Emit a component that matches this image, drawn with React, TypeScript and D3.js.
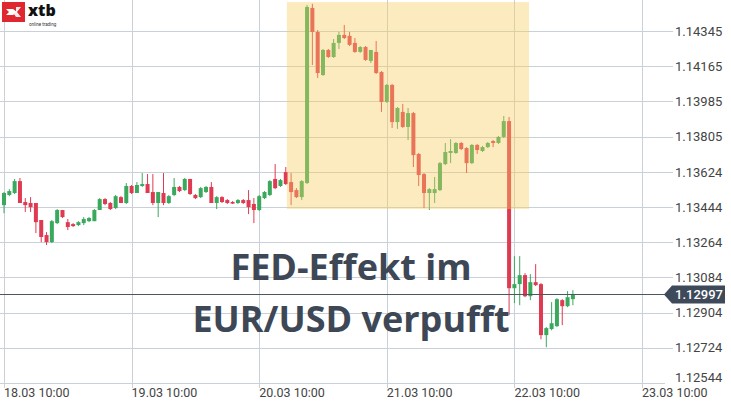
import React from "react";
import * as d3 from "d3";

const W = 731;
const H = 403;

// hourly candles starting 18.03.2019 10:00
const startTime = Date.UTC(2019, 2, 18, 10, 0);
const opens = [
  1.13454, 1.13506, 1.13516, 1.13577, 1.1347, 1.13465, 1.13465, 1.13378, 1.13301, 1.13265,
  1.13362, 1.13429, 1.13367, 1.13357, 1.13352, 1.13362, 1.13372, 1.13372, 1.13429, 1.13485,
  1.13465, 1.13439, 1.13495, 1.13465, 1.13552, 1.13516, 1.13552, 1.13562, 1.13521, 1.13465,
  1.13516, 1.13465, 1.13506, 1.13547, 1.13531, 1.13588, 1.13506, 1.13495, 1.13521, 1.13547,
  1.13465, 1.13495, 1.1348, 1.1347, 1.13465, 1.1348, 1.1348, 1.1346, 1.13429, 1.1349,
  1.13506, 1.13588, 1.13552, 1.13623, 1.13572, 1.13531, 1.13495, 1.13567, 1.14463, 1.1434,
  1.1412, 1.14248, 1.14212, 1.14284, 1.14325, 1.1432, 1.14284, 1.14238, 1.14263, 1.14192,
  1.14238, 1.14135, 1.13982, 1.14069, 1.13879, 1.13931, 1.13854, 1.13925, 1.13716, 1.13613,
  1.13516, 1.13516, 1.13531, 1.13664, 1.13721, 1.13721, 1.13772, 1.13746, 1.13669, 1.13762,
  1.13731, 1.13751, 1.13782, 1.13772, 1.13803, 1.13884, 1.13029, 1.1305, 1.13096, 1.12988,
  1.1306, 1.1305, 1.12789, 1.1282, 1.12835, 1.12968, 1.12937, 1.12973,
];
const highs = [
  1.13521, 1.13536, 1.13588, 1.13593, 1.1349, 1.13495, 1.13465, 1.13378, 1.13316, 1.13378,
  1.13434, 1.13429, 1.13383, 1.13362, 1.13372, 1.13393, 1.13393, 1.13434, 1.1349, 1.1349,
  1.1347, 1.13506, 1.135, 1.13567, 1.13557, 1.13572, 1.13618, 1.13613, 1.13613, 1.13521,
  1.13618, 1.13506, 1.13593, 1.13552, 1.13593, 1.13588, 1.13511, 1.13547, 1.13552, 1.13572,
  1.135, 1.135, 1.13485, 1.13475, 1.13485, 1.13485, 1.13531, 1.1349, 1.13506, 1.13526,
  1.13582, 1.13664, 1.13588, 1.13649, 1.13618, 1.13541, 1.13582, 1.14478, 1.14484, 1.1435,
  1.14253, 1.14253, 1.14304, 1.1434, 1.14376, 1.1434, 1.14309, 1.14268, 1.14268, 1.14248,
  1.14294, 1.1414, 1.14074, 1.14074, 1.13956, 1.13972, 1.13951, 1.13931, 1.13721, 1.13618,
  1.13541, 1.13598, 1.13675, 1.13772, 1.13792, 1.13777, 1.13777, 1.13751, 1.13767, 1.13767,
  1.13757, 1.13777, 1.13787, 1.13808, 1.1391, 1.13905, 1.13193, 1.13193, 1.13106, 1.13101,
  1.13152, 1.13055, 1.1283, 1.12958, 1.12978, 1.12973, 1.13014, 1.13019,
];
const lows = [
  1.13413, 1.135, 1.13511, 1.13465, 1.13419, 1.13419, 1.13311, 1.13265, 1.1325, 1.1326,
  1.13357, 1.13388, 1.13326, 1.13342, 1.13347, 1.13352, 1.13367, 1.13372, 1.13429, 1.13454,
  1.13429, 1.13434, 1.13465, 1.1346, 1.13511, 1.13516, 1.13547, 1.13516, 1.13454, 1.13393,
  1.13454, 1.1346, 1.135, 1.13521, 1.13526, 1.13506, 1.13485, 1.1349, 1.13516, 1.13465,
  1.13434, 1.13465, 1.1346, 1.1346, 1.1346, 1.1346, 1.13408, 1.13362, 1.13424, 1.13485,
  1.135, 1.13536, 1.13547, 1.13557, 1.13454, 1.1349, 1.1348, 1.13562, 1.14171, 1.14105,
  1.14115, 1.14207, 1.14207, 1.14253, 1.14304, 1.14268, 1.14233, 1.14233, 1.14192, 1.14181,
  1.14125, 1.13931, 1.13977, 1.13849, 1.13844, 1.13849, 1.13787, 1.13649, 1.13552, 1.13439,
  1.13429, 1.13465, 1.13526, 1.13659, 1.13669, 1.13716, 1.13736, 1.13618, 1.13664, 1.13716,
  1.13726, 1.13746, 1.13751, 1.13767, 1.13797, 1.12891, 1.12953, 1.12942, 1.12983, 1.12968,
  1.1304, 1.12768, 1.12727, 1.12814, 1.1283, 1.1284, 1.12932, 1.12942,
];
const closes = [
  1.13516, 1.13526, 1.13577, 1.13465, 1.13454, 1.13444, 1.13367, 1.13291, 1.13265, 1.13372,
  1.13429, 1.13393, 1.13342, 1.13347, 1.13367, 1.13383, 1.13388, 1.13429, 1.13485, 1.1346,
  1.13434, 1.135, 1.13465, 1.13552, 1.13516, 1.13557, 1.13562, 1.13516, 1.13465, 1.13521,
  1.13465, 1.135, 1.13547, 1.13526, 1.13588, 1.13511, 1.1349, 1.13541, 1.13547, 1.13465,
  1.13495, 1.1347, 1.13465, 1.13462, 1.1348, 1.13465, 1.13444, 1.13429, 1.135, 1.13521,
  1.13577, 1.13541, 1.13582, 1.13562, 1.13521, 1.13495, 1.13577, 1.14468, 1.1434, 1.1413,
  1.14248, 1.14212, 1.14284, 1.14325, 1.14309, 1.14274, 1.14238, 1.14263, 1.14197, 1.14248,
  1.1413, 1.13982, 1.14069, 1.13879, 1.13951, 1.13854, 1.13925, 1.1371, 1.13608, 1.13516,
  1.13536, 1.13536, 1.13669, 1.13726, 1.13731, 1.13772, 1.13741, 1.13669, 1.13762, 1.13736,
  1.13751, 1.13772, 1.13772, 1.13803, 1.13884, 1.13029, 1.1305, 1.13096, 1.12988, 1.1306,
  1.13045, 1.12789, 1.12825, 1.1285, 1.12973, 1.12937, 1.12983, 1.12997,
];

const yTicks = [1.12544, 1.12724, 1.12904, 1.13084, 1.13264, 1.13444, 1.13624, 1.13805, 1.13985, 1.14165, 1.14345];
const xTickLabels = ["18.03 10:00", "19.03 10:00", "20.03 10:00", "21.03 10:00", "22.03 10:00", "23.03 10:00"];
const xTickTimes = [
  Date.UTC(2019, 2, 18, 10), Date.UTC(2019, 2, 19, 10), Date.UTC(2019, 2, 20, 10),
  Date.UTC(2019, 2, 21, 10), Date.UTC(2019, 2, 22, 10), Date.UTC(2019, 2, 23, 10),
];
const lastPrice = 1.12997;
// highlighted zone: [start, end] time, [low, high] price
const zoneTimes = [Date.UTC(2019, 2, 20, 15, 12), Date.UTC(2019, 2, 22, 12, 45)];
const zonePrices = [1.13434, 1.14493];
const titleLines = ["FED-Effekt im", "EUR/USD verpufft"];

const GREEN = "#3aa95e";
const RED = "#df3a52";
const GRID = "#c9d0d8";
const TEXT = "#3d4756";

export default function App() {
  const x = d3.scaleUtc().domain([xTickTimes[0], xTickTimes[5]]).range([4, 642]);
  const y = d3.scaleLinear().domain([1.12544, 1.14345]).range([383, 31]);
  const candles = opens.map((o, i) => ({
    t: startTime + i * 3600 * 1000,
    o,
    h: highs[i],
    l: lows[i],
    c: closes[i],
  }));
  const bw = 4;
  const fmt = d3.format(".5f");
  const ly = y(lastPrice);

  return (
    <svg width={W} height={H} style={{ position: "absolute", left: 0, top: 0, background: "#fff" }}
      fontFamily="Roboto, 'DejaVu Sans', sans-serif">
      <rect x={0} y={0} width={W} height={H} fill="#fff" />
      {/* horizontal grid */}
      {yTicks.map((v, i) => (
        <line key={"hg" + i} x1={0} x2={i === 0 ? 665 : 673} y1={Math.round(y(v)) + 0.5} y2={Math.round(y(v)) + 0.5}
          stroke={GRID} strokeWidth={1} />
      ))}
      {/* vertical grid */}
      {xTickTimes.map((t, i) => (
        <line key={"vg" + i} x1={Math.round(x(t)) + 0.5} x2={Math.round(x(t)) + 0.5} y1={0} y2={388}
          stroke={GRID} strokeWidth={1} />
      ))}
      {/* candles */}
      {candles.map((d, i) => {
        const up = d.c >= d.o;
        const col = up ? GREEN : RED;
        const cx = x(d.t);
        const top = y(Math.max(d.o, d.c));
        const bot = y(Math.min(d.o, d.c));
        return (
          <g key={"c" + i}>
            <line x1={cx} x2={cx} y1={y(d.h)} y2={y(d.l)} stroke={col} strokeWidth={1} />
            <rect x={cx - bw / 2} y={top} width={bw} height={Math.max(1.2, bot - top)} fill={col} />
          </g>
        );
      })}
      {/* highlight zone */}
      <rect x={x(zoneTimes[0])} y={y(zonePrices[1])} width={x(zoneTimes[1]) - x(zoneTimes[0])}
        height={y(zonePrices[0]) - y(zonePrices[1])} fill="rgb(248,205,95)" fillOpacity={0.4} />
      {/* last price line */}
      <line x1={0} x2={668} y1={Math.round(ly) + 0.5} y2={Math.round(ly) + 0.5} stroke="#4d5560" strokeWidth={1} />
      {/* y labels */}
      {yTicks.map((v, i) => (
        <text key={"yl" + i} x={675} y={i === 0 ? y(v) - 6 : y(v)} dy="0.36em" fontSize={13} fill="#444">
          {fmt(v)}
        </text>
      ))}
      {/* last price tag */}
      <path d={`M${664},${ly} L${672},${ly - 9} L${725},${ly - 9} L${725},${ly + 9} L${672},${ly + 9} Z`} fill="#3e4a5a" />
      <text x={675} y={ly} dy="0.36em" fontSize={13} fill="#fff" fontWeight={500}>{fmt(lastPrice)}</text>
      {/* x labels */}
      {xTickLabels.map((s, i) => (
        <text key={"xl" + i} x={x(xTickTimes[i])} y={397} fontSize={12.5} fill="#444">{s}</text>
      ))}
      {/* title */}
      {titleLines.map((s, i) => (
        <text key={"t" + i} x={351} y={280 + i * 52} textAnchor="middle" fontFamily="'Open Sans', 'Noto Sans', sans-serif"
          fontWeight={700} fontSize={36} fill={TEXT}>{s}</text>
      ))}
      {/* logo */}
      <g>
        <rect x={2} y={2} width={23} height={20} fill="#e0262f" />
        <path d="M6,9 L13,9 L17,12 L13,15 L6,15 L9,12 Z" fill="#fff" />
        <path d="M16,7 L21,7 L17,12 L21,17 L16,17 L14,14 L16,12 Z" fill="#fff" opacity={0.9} />
        <text x={28} y={16} fontFamily="'Open Sans', sans-serif" fontWeight={800} fontSize={16} fill="#111">xtb</text>
        <text x={29} y={26} fontFamily="Roboto, sans-serif" fontSize={4.5} fill="#333">online trading</text>
      </g>
    </svg>
  );
}
